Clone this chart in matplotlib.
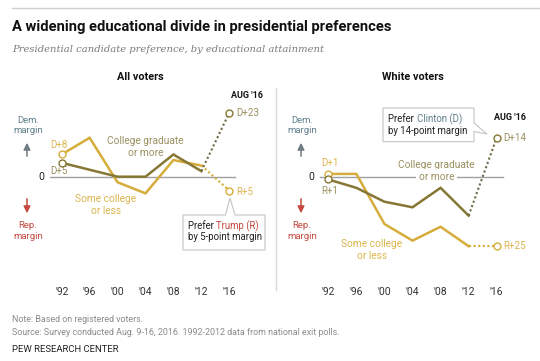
import matplotlib
matplotlib.use("Agg")
import matplotlib.pyplot as plt
from matplotlib.patches import Polygon, FancyArrowPatch

W, H = 540, 361
years = [1992, 1996, 2000, 2004, 2008, 2012]
year_labels = ["'92", "'96", "'00", "'04", "'08", "'12", "'16"]
year_2016 = 2016

all_college = [5, 2.5, 0, 0, 8, 2]
all_noncollege = [8, 14, -2, -6, 6, 4]
all_college_2016 = 23
all_noncollege_2016 = -5

white_college = [-1, -4, -9, -11, -4, -14]
white_noncollege = [1, 1, -17, -23, -18, -25]
white_college_2016 = 14
white_noncollege_2016 = -25

DARK = "#867735"
LIGHT = "#d6ad3b"
DARK_TXT = "#9a9060"
LIGHT_TXT = "#dcb54e"
DEM = "#5f7e8c"
REP = "#c4483f"
GRAY0 = "#a0a0a0"

plt.rcParams['font.family'] = ['Roboto', 'DejaVu Sans']

fig = plt.figure(figsize=(W / 100, H / 100), dpi=100)


def fx(px):
    return px / W


def fy(py):
    return 1 - py / H


def add_panel(x0px, x92px, x16px):
    ppy = (x16px - x92px) / 24.0
    left, right = x0px, x0px + 220
    top, bottom = 85, 283
    ax = fig.add_axes([fx(left), fy(bottom), (right - left) / W, (bottom - top) / H])
    ax.set_xlim(1992 - (x92px - left) / ppy, 2016 + (right - x16px) / ppy)
    ppt = 2.78
    ax.set_ylim(-(bottom - 176.7) / ppt, (176.7 - top) / ppt)
    for s in ax.spines.values():
        s.set_visible(False)
    ax.set_yticks([])
    ax.set_xticks(years + [year_2016])
    ax.set_xticklabels(year_labels, fontsize=7.5, color="#333333")
    ax.tick_params(axis="x", length=0, pad=3)
    ax.patch.set_alpha(0)
    return ax


def draw_series(ax, college, noncollege, c16, n16, zx0, zx1):
    ax.plot([zx0, zx1], [0, 0], color=GRAY0, lw=1.0, zorder=1)
    ax.plot(years, noncollege, color=LIGHT, lw=1.8, zorder=3, solid_joinstyle="miter")
    ax.plot(years, college, color=DARK, lw=1.8, zorder=4, solid_joinstyle="miter")
    ax.plot([years[-1], year_2016], [noncollege[-1], n16], color=LIGHT, lw=1.5,
            ls=(0, (1, 1.2)), zorder=3)
    ax.plot([years[-1], year_2016], [college[-1], c16], color="#6f6a45", lw=1.5,
            ls=(0, (1, 1.2)), zorder=4)
    ax.plot([years[0]], [noncollege[0]], "o", ms=5, mfc="white", mec=LIGHT, mew=1.0, zorder=5)
    ax.plot([years[0]], [college[0]], "o", ms=5, mfc="white", mec=DARK, mew=1.0, zorder=6)
    ax.plot([year_2016], [n16], "o", ms=5, mfc="white", mec=LIGHT, mew=1.0, zorder=5)
    ax.plot([year_2016], [c16], "o", ms=5, mfc="white", mec=DARK, mew=1.0, zorder=6)


def fmt(v):
    return ("D+%d" % v) if v > 0 else ("R+%d" % -v)


# Top rule, title, subtitle
fig.add_artist(plt.Line2D([fx(12), fx(540)], [fy(8), fy(8)], color="#d0d0d0", lw=1.0))
fig.text(fx(12), fy(27), "A widening educational divide in presidential preferences",
         fontsize=10.6, fontweight="bold", color="#111111", va="center", ha="left")
fig.text(fx(12), fy(50), "Presidential candidate preference, by educational attainment",
         fontsize=7.2, style="italic", family="DejaVu Serif", color="#7a7a7a",
         va="center", ha="left")

# Panels
axL = add_panel(40, 61.7, 229.3)
axR = add_panel(307, 328.3, 496.7)

draw_series(axL, all_college, all_noncollege, all_college_2016, all_noncollege_2016,
            1990.3, 2016.8)
draw_series(axR, white_college, white_noncollege, white_college_2016, white_noncollege_2016,
            1990.8, 2016.9)

# Separator
fig.add_artist(plt.Line2D([fx(276), fx(276)], [fy(88), fy(290)], color="#d8d8d8", lw=1.0))

# Panel titles
fig.text(fx(140.7), fy(77), "All voters", fontsize=7.8, fontweight="bold", ha="center",
         va="center", color="#111111")
fig.text(fx(412.7), fy(77), "White voters", fontsize=7.8, fontweight="bold", ha="center",
         va="center", color="#111111")
fig.text(fx(246.7), fy(95), "AUG '16", fontsize=6.5, fontweight="bold", ha="center",
         va="center", color="#111111")
fig.text(fx(510), fy(118), "AUG '16", fontsize=6.5, fontweight="bold", ha="center",
         va="center", color="#111111")

# Dem / Rep side labels and arrows
for xc, zx in [(28, 41), (302, 311.7)]:
    fig.text(fx(xc), fy(125.5), "Dem.\nmargin", fontsize=6.8, color=DEM, ha="center",
             va="center", linespacing=1.25)
    fig.text(fx(xc), fy(231), "Rep.\nmargin", fontsize=6.8, color=REP, ha="center",
             va="center", linespacing=1.25)
    fig.text(fx(zx), fy(177), "0", fontsize=7.5, color="#222222", ha="center", va="center")
    fig.add_artist(FancyArrowPatch((fx(xc - 1), fy(159)), (fx(xc - 1), fy(140)),
                                   transform=fig.transFigure,
                                   arrowstyle="-|>,head_length=4,head_width=2",
                                   color="#6e7b80", lw=1.1, mutation_scale=1))
    fig.add_artist(FancyArrowPatch((fx(xc - 1), fy(196)), (fx(xc - 1), fy(216)),
                                   transform=fig.transFigure,
                                   arrowstyle="-|>,head_length=4,head_width=2",
                                   color=REP, lw=1.1, mutation_scale=1))

# Value labels (left)
kw = dict(fontsize=7, va="center", textcoords="offset points")
axL.annotate(fmt(all_noncollege[0]), (years[0], all_noncollege[0]), xytext=(-8, 7),
             color=LIGHT_TXT, **kw)
axL.annotate(fmt(all_college[0]), (years[0], all_college[0]), xytext=(-8, -6),
             color=DARK_TXT, **kw)
axL.annotate(fmt(all_college_2016), (year_2016, all_college_2016), xytext=(5, 0),
             color=DARK_TXT, **kw)
axL.annotate(fmt(all_noncollege_2016), (year_2016, all_noncollege_2016), xytext=(5, -1),
             color=LIGHT_TXT, **kw)
# Value labels (right)
axR.annotate(fmt(white_noncollege[0]), (years[0], white_noncollege[0]), xytext=(-5, 8),
             color=LIGHT_TXT, **kw)
axR.annotate(fmt(white_college[0]), (years[0], white_college[0]), xytext=(-5, -8),
             color=DARK_TXT, **kw)
axR.annotate(fmt(white_college_2016), (year_2016, white_college_2016), xytext=(5, 0),
             color=DARK_TXT, **kw)
axR.annotate(fmt(white_noncollege_2016), (year_2016, white_noncollege_2016), xytext=(5, 0),
             color=LIGHT_TXT, **kw)

# Series labels
fig.text(fx(145.7), fy(147), "College graduate\nor more", fontsize=7.3, color=DARK_TXT,
         ha="center", va="center", linespacing=1.15)
fig.text(fx(106), fy(205), "Some college\nor less", fontsize=7.3, color=LIGHT_TXT,
         ha="center", va="center", linespacing=1.15)
fig.text(fx(436.7), fy(165), "College graduate", fontsize=7.3, color=DARK_TXT,
         ha="center", va="center")
fig.text(fx(436.7), fy(176.7), "or more", fontsize=7.3, color=DARK_TXT,
         ha="center", va="center",
         bbox=dict(boxstyle="square,pad=0.25", fc="white", ec="none"), zorder=10)
fig.text(fx(371.7), fy(250), "Some college\nor less", fontsize=7.3, color=LIGHT_TXT,
         ha="center", va="center", linespacing=1.15)


# Callouts
def callout(pts, t1, t2, colored, ccol, tx, ty1, ty2):
    poly = Polygon([(fx(a), fy(b)) for a, b in pts], closed=True, transform=fig.transFigure,
                   fc="white", ec="#c4c4c4", lw=0.8, zorder=20)
    fig.add_artist(poly)
    a = fig.text(fx(tx), fy(ty1), t1, fontsize=6.9, color="#222222", ha="left", va="center",
                 zorder=21)
    fig.canvas.draw()
    bb = a.get_window_extent()
    fig.text(bb.x1 / W, fy(ty1), colored, fontsize=6.9, color=ccol, ha="left", va="center",
             zorder=21)
    fig.text(fx(tx), fy(ty2), t2, fontsize=6.9, color="#222222", ha="left", va="center",
             zorder=21)


callout([(183, 215), (225.5, 215), (230, 198), (235, 215), (265, 215), (265, 250), (183, 250)],
        "Prefer ", "by 5-point margin", "Trump (R)", REP, 188, 226, 237.5)
callout([(383, 108), (474, 108), (474, 123), (487, 134), (474, 131.5), (474, 141.7), (383, 141.7)],
        "Prefer ", "by 14-point margin", "Clinton (D)", DEM, 388.3, 119, 131)

# Footer
fig.text(fx(12), fy(320), "Note: Based on registered voters.", fontsize=6.4, color="#8a8a8a",
         ha="left", va="center")
fig.text(fx(12), fy(332.5),
         "Source: Survey conducted Aug. 9-16, 2016. 1992-2012 data from national exit polls.",
         fontsize=6.4, color="#8a8a8a", ha="left", va="center")
fig.text(fx(12), fy(350), "PEW RESEARCH CENTER", fontsize=6.8, color="#222222",
         ha="left", va="center")

fig.savefig("out.png", dpi=100)
